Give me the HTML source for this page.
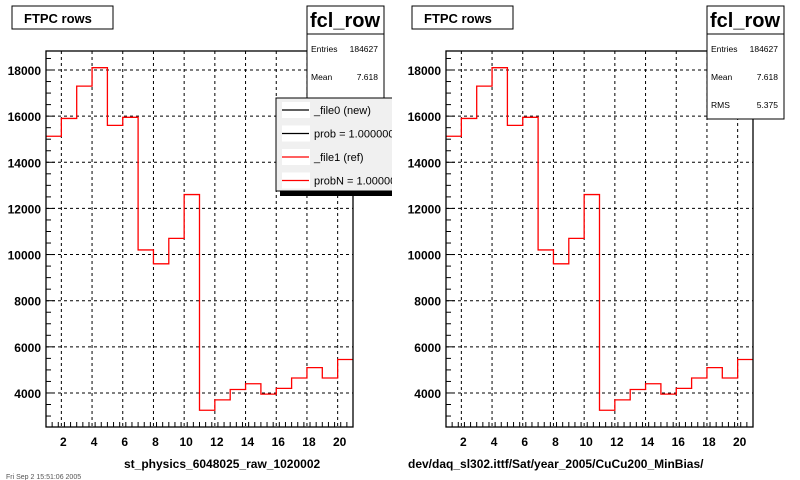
<!DOCTYPE html>
<html><head><meta charset="utf-8"><style>
body{margin:0;background:#fff;}
svg{display:block;font-family:"Liberation Sans",Arial,sans-serif;}
</style></head><body>
<svg id="c" width="800" height="480" viewBox="0 0 800 480">
<defs><clipPath id="leftclip"><rect x="0" y="0" width="392" height="480"/></clipPath></defs>
</svg>
<script>
const binEdges=[1,2,3,4,5,6,7,8,9,10,11,12,13,14,15,16,17,18,19,20,21];
const counts=[15130,15900,17300,18100,15600,15950,10200,9600,10700,12600,3250,3700,4150,4400,3950,4200,4650,5100,4650,5450];
const xTicks=[2,4,6,8,10,12,14,16,18,20];
const yTicks=[4000,6000,8000,10000,12000,14000,16000,18000];
const panelTitles=["st_physics_6048025_raw_1020002","dev/daq_sl302.ittf/Sat/year_2005/CuCu200_MinBias/"];
const NS="http://www.w3.org/2000/svg";
const svg=document.getElementById('c');
function mk(t,a,p,txt){const e=document.createElementNS(NS,t);for(const k in a)e.setAttribute(k,a[k]);if(txt!==undefined)e.textContent=txt;(p||svg).appendChild(e);return e;}
const L=46,R=353,T=51,B=427,X0=1,X1=21,Y0=2525,Y1=18824;
function panel(ox,idx){
  const g=mk('g',{transform:`translate(${ox},0)`});
  
  
  const xs=v=>L+(v-X0)/(X1-X0)*(R-L);
  const ys=v=>B-(v-Y0)/(Y1-Y0)*(B-T);
  xTicks.forEach(v=>{const l=mk('line',{x1:xs(v),x2:xs(v),y1:T,y2:B,stroke:'#000','stroke-dasharray':'3,3','stroke-width':1},g);
    });
  yTicks.forEach(v=>{const l=mk('line',{x1:L,x2:R,y1:ys(v),y2:ys(v),stroke:'#000','stroke-dasharray':'3,3','stroke-width':1},g);
    });
  for(let v=X0;v<=X1+1e-6;v+=0.4){const maj=Math.abs(v/2-Math.round(v/2))<0.01;mk('line',{x1:xs(v),x2:xs(v),y1:B,y2:B-(maj?10:5),stroke:'#000'},g);}
  for(let v=3000;v<=18500;v+=500){const maj=v%2000===0;mk('line',{x1:L,x2:L+(maj?9:5),y1:ys(v),y2:ys(v),stroke:'#000'},g);}
  xTicks.forEach(v=>{const t=mk('text',{x:xs(v)+2,y:446,'text-anchor':'middle','font-size':12,'font-weight':'bold'},g,String(v));
    });
  yTicks.forEach(v=>{const t=mk('text',{x:41,y:ys(v)+5,'text-anchor':'end','font-size':12,'font-weight':'bold'},g,String(v));
    });
  let d=`M${xs(binEdges[0])},${ys(counts[0])}`;
  for(let i=0;i<counts.length;i++){d+=` L${xs(binEdges[i])},${ys(counts[i])} L${xs(binEdges[i+1])},${ys(counts[i])}`;}
  const p=mk('path',{d:d,fill:'none',stroke:'#f00','stroke-width':1.3},g);
  
  mk('rect',{x:L,y:T,width:R-L,height:B-T,fill:'none',stroke:'#000','stroke-width':1.3},g);
  const tb=mk('g',{},g);
  mk('rect',{x:12,y:6,width:101,height:23,fill:'#fff',stroke:'#000'},tb);
  mk('text',{x:24,y:23,'font-size':13,'font-weight':'bold'},tb,'FTPC rows');
  const sb=mk('g',{},g);
  mk('rect',{x:307,y:6,width:77,height:113,fill:'#fff',stroke:'#000'},sb);
  mk('line',{x1:307,x2:384,y1:34,y2:34,stroke:'#000'},sb);
  mk('text',{x:345,y:27,'text-anchor':'middle','font-size':20,'font-weight':'bold'},sb,'fcl_row');
  mk('text',{x:311,y:52,'font-size':8.5},sb,'Entries');mk('text',{x:378,y:52,'font-size':8.5,'text-anchor':'end'},sb,'184627');
  mk('text',{x:311,y:80,'font-size':8.5},sb,'Mean');mk('text',{x:378,y:80,'font-size':8.5,'text-anchor':'end'},sb,'7.618');
  mk('text',{x:311,y:108,'font-size':8.5},sb,'RMS');mk('text',{x:378,y:108,'font-size':8.5,'text-anchor':'end'},sb,'5.375');
  const xt=mk('text',{x:idx===0?124:8,y:468,'font-size':12,'font-weight':'bold'},g,panelTitles[idx]);
  
  return g;
}
panel(0,0);panel(400,1);
const lg=mk('g',{'clip-path':'url(#leftclip)'});
mk('rect',{x:280,y:101,width:120,height:95,fill:'#000'},lg);
mk('rect',{x:276,y:98,width:124,height:93,fill:'#f0f0f0',stroke:'#000'},lg);
const legendLabels=['_file0 (new)','prob = 1.000000','_file1 (ref)','probN = 1.000000'];
const legendColors=['#000','#000','#f00','#f00'];
legendLabels.forEach((s,i)=>{const y=110+i*23.5;
  const e=mk('g',{},lg);
  mk('rect',{x:282,y:y-8,width:28,height:16,fill:'#fff'},e);
  mk('line',{x1:282,x2:309,y1:y,y2:y,stroke:legendColors[i],'stroke-width':1.2},e);
  mk('text',{x:314,y:y+4,'font-size':11},e,s);});
const ft=mk('text',{x:6,y:479,'font-size':7,fill:'#555'},undefined,'Fri Sep 2 15:51:06 2005');

</script>
</body></html>
